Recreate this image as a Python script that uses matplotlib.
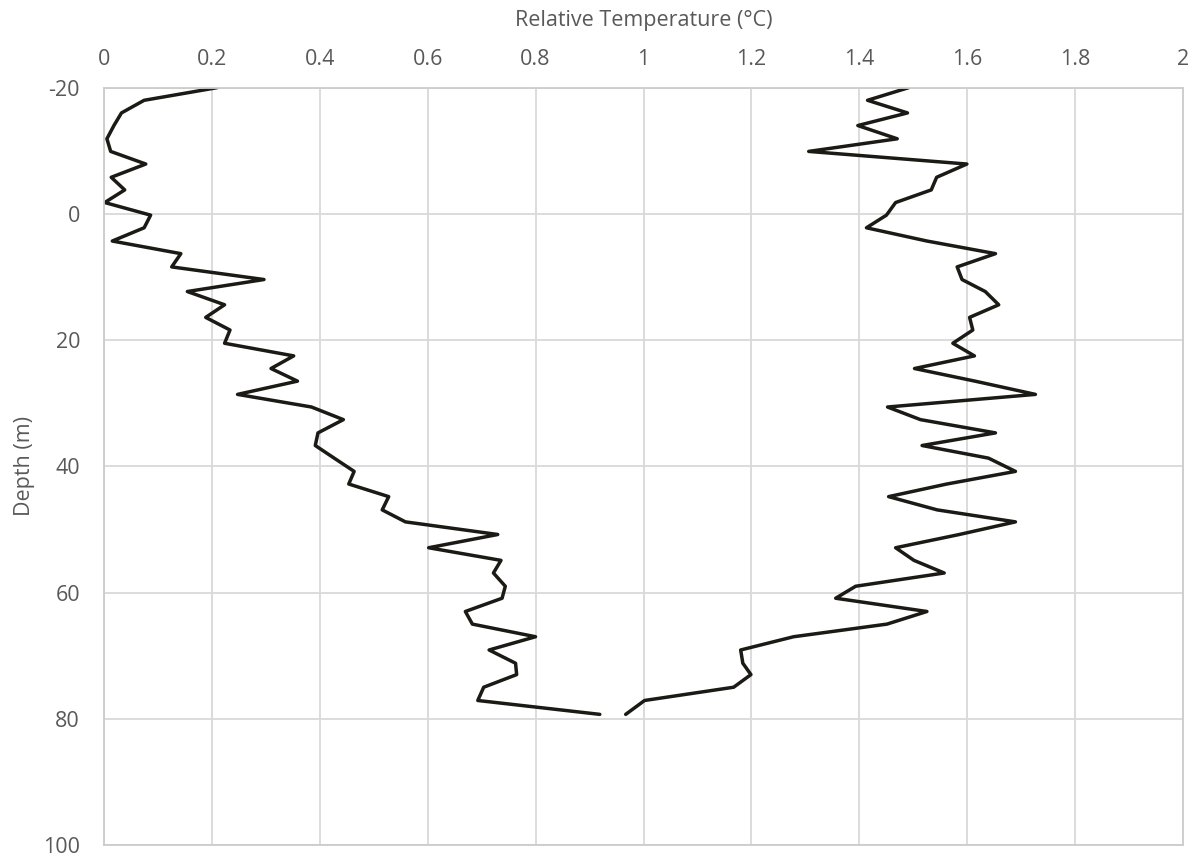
import matplotlib
matplotlib.use("Agg")
import matplotlib.pyplot as plt

# depth (m) and relative temperature (C) for the two profiles
depth = [-20, -18, -16, -14, -11.9, -9.9, -7.9, -5.8, -3.8, -1.8,
         0.2, 2.2, 4.3, 6.3, 8.4, 10.4, 12.3, 14.4, 16.4, 18.4,
         20.5, 22.5, 24.5, 26.5, 28.6, 30.6, 32.6, 34.7, 36.7, 38.7,
         40.8, 42.8, 44.8, 46.9, 48.8, 50.8, 52.9, 54.9, 56.9, 59.0,
         60.9, 63.0, 65.0, 67.0, 69.1, 71.2, 73.0, 75.0, 77.1, 79.3]

temp_left = [0.21, 0.075, 0.033, 0.019, 0.006, 0.013, 0.078, 0.014, 0.039, 0.002,
             0.087, 0.075, 0.016, 0.143, 0.126, 0.297, 0.155, 0.224, 0.189, 0.234,
             0.224, 0.352, 0.31, 0.359, 0.248, 0.385, 0.444, 0.397, 0.392, 0.427,
             0.464, 0.454, 0.528, 0.516, 0.559, 0.730, 0.602, 0.736, 0.722, 0.744,
             0.738, 0.670, 0.683, 0.800, 0.714, 0.763, 0.765, 0.704, 0.693, 0.919]

temp_right = [1.491, 1.415, 1.489, 1.397, 1.470, 1.306, 1.599, 1.543, 1.533, 1.467,
              1.450, 1.413, 1.525, 1.652, 1.581, 1.590, 1.633, 1.658, 1.604, 1.610,
              1.573, 1.613, 1.502, 1.614, 1.726, 1.452, 1.513, 1.652, 1.516, 1.639,
              1.689, 1.562, 1.454, 1.544, 1.689, 1.585, 1.467, 1.501, 1.557, 1.393,
              1.356, 1.525, 1.451, 1.278, 1.180, 1.184, 1.199, 1.167, 1.002, 0.967]

x_ticks = [0, 0.2, 0.4, 0.6, 0.8, 1, 1.2, 1.4, 1.6, 1.8, 2]
x_labels = ["0", "0.2", "0.4", "0.6", "0.8", "1", "1.2", "1.4", "1.6", "1.8", "2"]
y_ticks = [-20, 0, 20, 40, 60, 80, 100]

plt.rcParams['font.family'] = ['Open Sans', 'DejaVu Sans']
plt.rcParams['axes.unicode_minus'] = False
grey_txt = "#595959"

fig = plt.figure(figsize=(11.97, 8.57), dpi=100)
ax = fig.add_axes([0.0866, 0.014, 0.9020, 0.8837])

ax.plot(temp_left, depth, color="#1c1a15", lw=2.5, solid_joinstyle="round", solid_capstyle="round")
ax.plot(temp_right, depth, color="#1c1a15", lw=2.5, solid_joinstyle="round", solid_capstyle="round")

ax.set_xlim(0, 2)
ax.set_ylim(100, -20)
ax.set_xticks(x_ticks)
ax.set_xticklabels(x_labels)
ax.set_yticks(y_ticks)
ax.xaxis.tick_top()
ax.xaxis.set_label_position("top")
ax.tick_params(length=0, labelsize=15.5, labelcolor=grey_txt)
ax.tick_params(axis="x", pad=13)
ax.tick_params(axis="y", pad=17)

ax.grid(True, color="#d9d9d9", lw=1.3)
ax.set_axisbelow(True)
for s in ax.spines.values():
    s.set_color("#cccccc")
    s.set_linewidth(1.3)

ax.set_xlabel("Relative Temperature (°C)", fontsize=15.5, color=grey_txt, labelpad=16)
ax.set_ylabel("Depth (m)", fontsize=15.5, color=grey_txt, labelpad=6)

fig.savefig("out.png", dpi=100)
